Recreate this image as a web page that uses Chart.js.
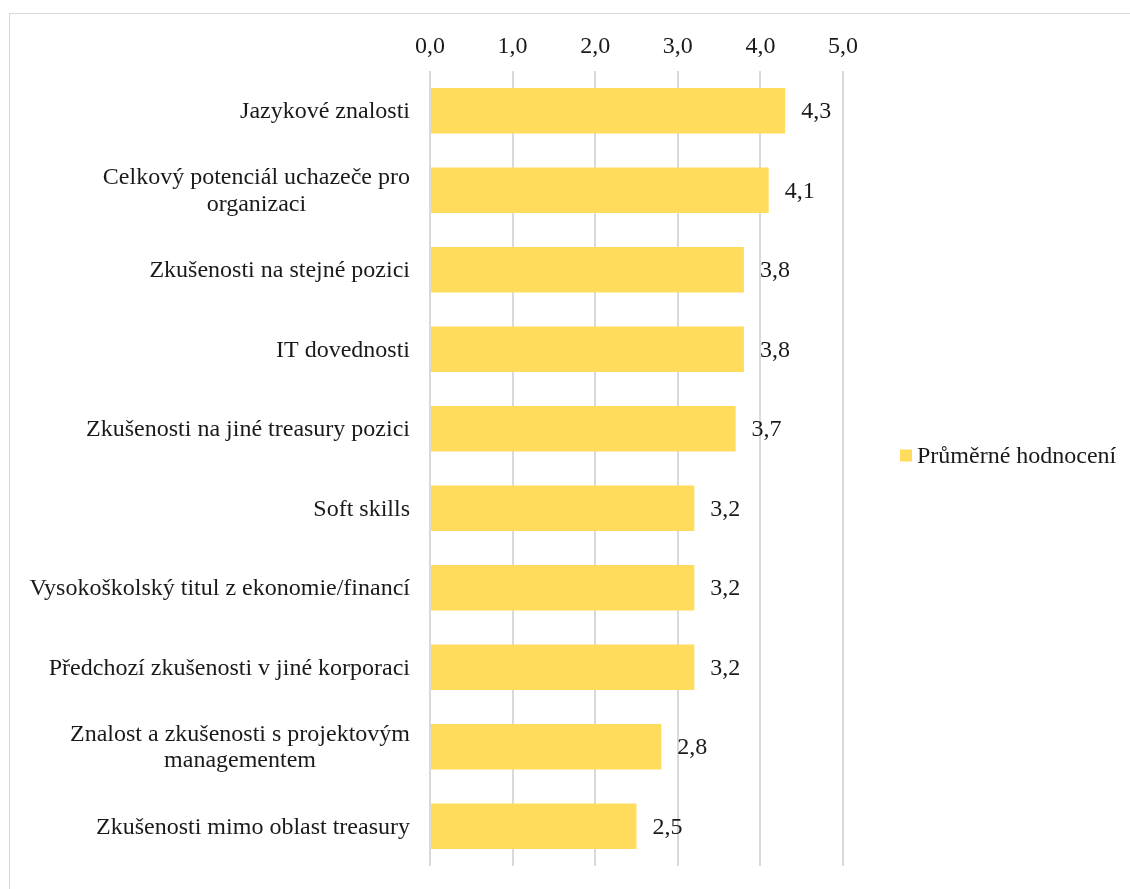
<!DOCTYPE html>
<html lang="cs">
<head>
<meta charset="UTF-8">
<title>Průměrné hodnocení</title>
<script src="https://cdn.jsdelivr.net/npm/chart.js"></script>
<style>
    body {
        margin: 0;
        background: #fff;
        overflow: hidden;
    }
    #frame {
        position: absolute;
        left: 9px;
        top: 13px;
        width: 1130px;
        height: 890px;
        border-top: 1px solid #d9d9d9;
        border-left: 1px solid #d9d9d9;
    }
    #chartBox {
        position: absolute;
        left: 0;
        top: 0;
        width: 1120px;
        height: 875px;
    }
</style>
</head>
<body>
<div id="frame">
    <div id="chartBox"><canvas id="ratingChart"></canvas></div>
</div>
<script>
    const categories = [
        ['Jazykové znalosti'],
        ['Celkový potenciál uchazeče pro', 'organizaci'],
        ['Zkušenosti na stejné pozici'],
        ['IT dovednosti'],
        ['Zkušenosti na jiné treasury pozici'],
        ['Soft skills'],
        ['Vysokoškolský titul z ekonomie/financí'],
        ['Předchozí zkušenosti v jiné korporaci'],
        ['Znalost a zkušenosti s projektovým', 'managementem'],
        ['Zkušenosti mimo oblast treasury']
    ];
    const ratings = [4.3, 4.1, 3.8, 3.8, 3.7, 3.2, 3.2, 3.2, 2.8, 2.5];
    const seriesName = 'Průměrné hodnocení';
    const axisTicks = [0, 1, 2, 3, 4, 5];

    const textColor = '#1a1a1a';
    const barColor = '#FFDC5C';
    const fontSize = 24;
    const fmt = v => v.toFixed(1).replace('.', ',');

    Chart.defaults.font.family = '"Liberation Serif", "Times New Roman", serif';
    Chart.defaults.font.size = fontSize;
    Chart.defaults.color = textColor;

    // category labels: block right-aligned, lines centred inside the block
    const categoryLabels = {
        id: 'categoryLabels',
        afterDraw(chart) {
            const ctx = chart.ctx;
            const y = chart.scales.y;
            const right = chart.chartArea.left - 20;
            ctx.save();
            ctx.font = fontSize + 'px ' + Chart.defaults.font.family;
            ctx.fillStyle = textColor;
            ctx.textAlign = 'center';
            ctx.textBaseline = 'middle';
            const lineH = 26.5;
            categories.forEach((lines, i) => {
                const cy = y.getPixelForTick(i);
                const w = Math.max(...lines.map(l => ctx.measureText(l).width));
                const cx = right - w / 2;
                lines.forEach((l, k) => {
                    ctx.fillText(l, cx, cy + (k - (lines.length - 1) / 2) * lineH + 1);
                });
            });
            ctx.restore();
        }
    };

    // value labels to the right of each bar
    const valueLabels = {
        id: 'valueLabels',
        afterDatasetsDraw(chart) {
            const ctx = chart.ctx;
            const meta = chart.getDatasetMeta(0);
            ctx.save();
            ctx.font = fontSize + 'px ' + Chart.defaults.font.family;
            ctx.fillStyle = textColor;
            ctx.textAlign = 'left';
            ctx.textBaseline = 'middle';
            meta.data.forEach((bar, i) => {
                ctx.fillText(fmt(ratings[i]), bar.x + 16, bar.y + 1);
            });
            ctx.restore();
        }
    };

    // legend drawn to the right of the plot
    const sideLegend = {
        id: 'sideLegend',
        afterDraw(chart) {
            const ctx = chart.ctx;
            const x = chart.chartArea.right + 57;
            const y = chart.height / 2 + 4;
            ctx.save();
            ctx.fillStyle = barColor;
            ctx.fillRect(x, y - 6, 12, 12);
            ctx.font = fontSize + 'px ' + Chart.defaults.font.family;
            ctx.fillStyle = textColor;
            ctx.textAlign = 'left';
            ctx.textBaseline = 'middle';
            ctx.fillText(seriesName, x + 17, y + 1);
            ctx.restore();
        }
    };

    new Chart(document.getElementById('ratingChart'), {
        type: 'bar',
        data: {
            labels: categories,
            datasets: [{
                label: seriesName,
                data: ratings,
                backgroundColor: barColor,
                borderWidth: 0,
                categoryPercentage: 1,
                barPercentage: 0.57
            }]
        },
        options: {
            indexAxis: 'y',
            responsive: true,
            maintainAspectRatio: false,
            animation: false,
            layout: {
                padding: { top: 16, right: 287, bottom: 23, left: 0 }
            },
            plugins: {
                legend: { display: false },
                tooltip: { enabled: false }
            },
            scales: {
                x: {
                    position: 'top',
                    min: axisTicks[0],
                    max: axisTicks[axisTicks.length - 1],
                    afterBuildTicks: scale => {
                        scale.ticks = axisTicks.map(v => ({ value: v }));
                    },
                    afterFit: scale => { scale.height = 41; },
                    ticks: {
                        padding: 10,
                        maxRotation: 0,
                        callback: v => fmt(v)
                    },
                    grid: {
                        color: '#d9d9d9',
                        lineWidth: 2,
                        drawTicks: false
                    },
                    border: { display: false }
                },
                y: {
                    afterFit: scale => { scale.width = 420; },
                    ticks: { color: 'rgba(0,0,0,0)' },
                    grid: { display: false, drawTicks: false },
                    border: { display: false }
                }
            }
        },
        plugins: [categoryLabels, valueLabels, sideLegend]
    });
</script>
</body>
</html>
